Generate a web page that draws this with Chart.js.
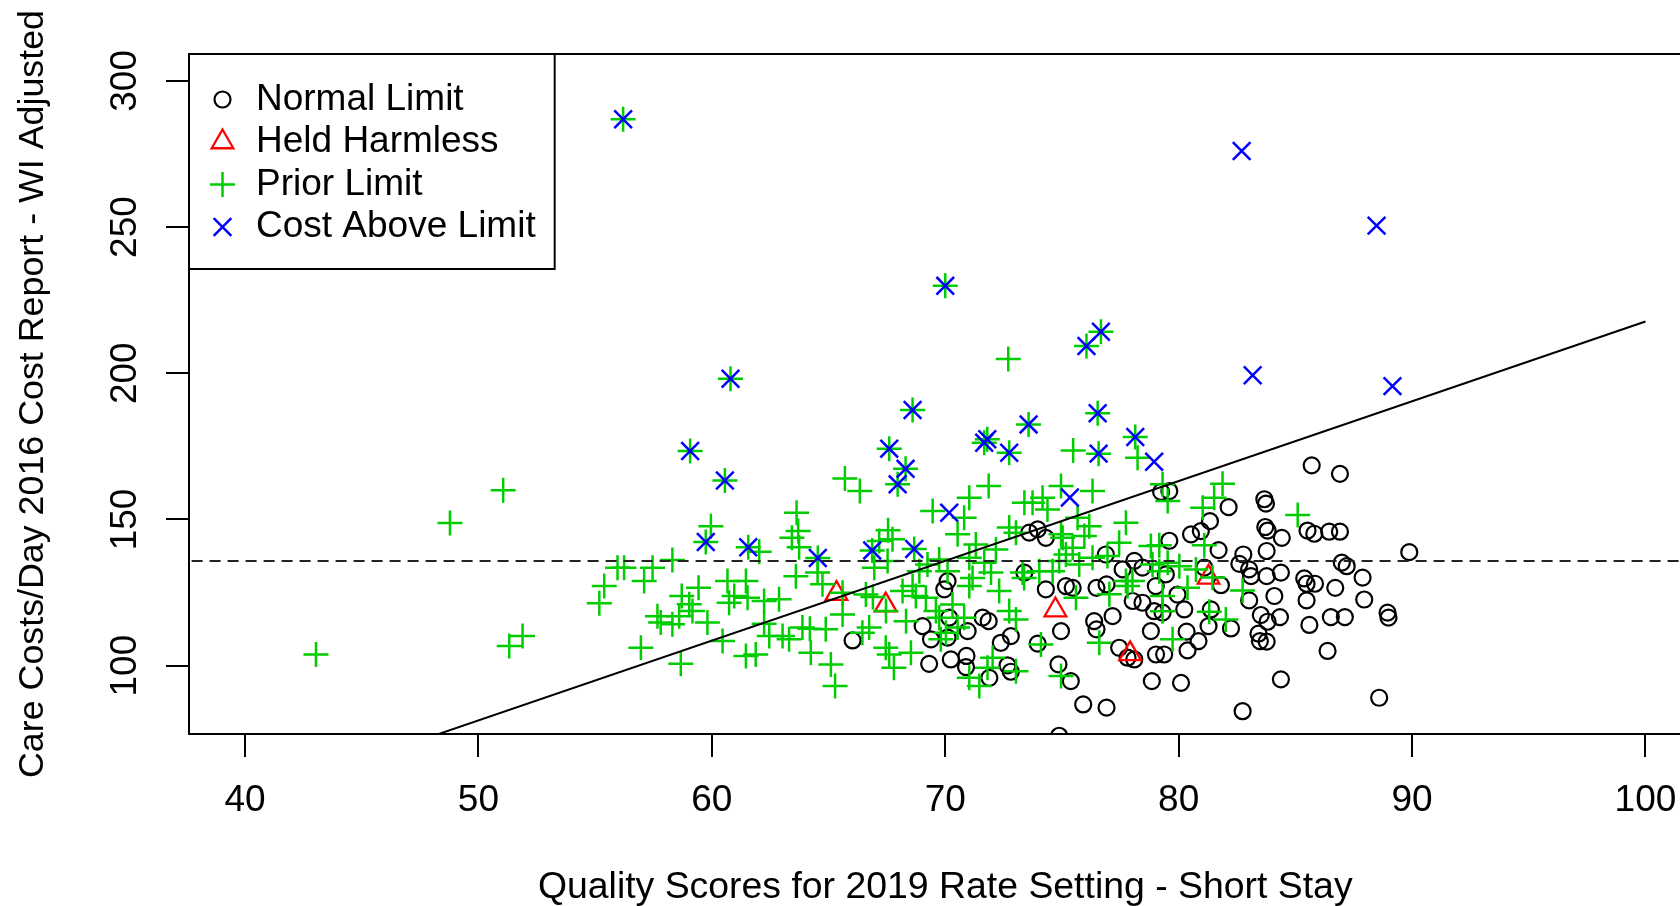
<!DOCTYPE html>
<html>
<head>
<meta charset="utf-8">
<script src="https://cdn.jsdelivr.net/npm/chart.js@4.4.1/dist/chart.umd.min.js"></script>
<style>
  html, body { margin: 0; padding: 0; background: #fff; overflow: hidden; }
  #wrap { position: relative; width: 1720px; height: 906px; }
</style>
</head>
<body>
<div id="wrap"><canvas id="scatter"></canvas></div>
<script>
// axis ticks and labels
const xTicks = [40, 50, 60, 70, 80, 90, 100];
const yTicks = [100, 150, 200, 250, 300];
const xTitle = 'Quality Scores for 2019 Rate Setting - Short Stay';
const yTitle = 'Care Costs/Day 2016 Cost Report - WI Adjusted';
const seriesNames = ['Normal Limit', 'Held Harmless', 'Prior Limit', 'Cost Above Limit'];

// reference lines
const limitValue = 135.8;
const fitIntercept = -55.2;
const fitSlope = 2.729;
const fitRange = [40, 100];

// [quality score, cost per day]
const normalLimit = [
  [66.03, 108.6], [70.1, 128.9], [69.96, 126.1], [70.17, 116.4], [69.03, 113.5], [69.39, 109.0],
  [70.1, 109.6], [70.96, 111.8], [71.6, 116.4], [71.86, 115.2], [72.38, 107.8], [72.81, 110.1],
  [69.31, 100.6], [70.24, 102.1], [70.91, 103.3], [70.89, 99.5], [71.89, 95.8], [72.67, 100.1],
  [72.81, 97.9], [73.39, 131.8], [73.6, 145.5], [74.31, 143.7], [73.96, 146.6], [76.88, 138.0],
  [74.31, 126.1], [75.17, 127.2], [75.46, 126.6], [76.48, 126.6], [76.91, 127.8], [77.6, 132.9],
  [78.1, 135.8], [78.45, 133.5], [79.02, 127.2], [78.03, 122.1], [78.45, 121.5], [78.95, 118.6],
  [79.31, 118.1], [79.25, 159.4], [79.6, 159.7], [79.6, 142.7], [77.17, 116.9], [76.38, 115.2],
  [76.48, 112.4], [74.96, 111.8], [78.81, 111.8], [73.96, 107.5], [77.45, 106.1], [77.81, 102.7],
  [78.1, 102.1], [79.03, 103.8], [79.38, 103.8], [74.85, 100.4], [75.38, 94.7], [78.85, 94.7],
  [75.91, 86.7], [76.91, 85.6], [74.88, 76.0], [82.14, 154.2], [81.34, 149.4], [80.95, 146.0],
  [80.53, 144.9], [81.71, 139.5], [83.67, 156.9], [83.74, 155.4], [83.71, 147.4], [83.81, 146.2],
  [84.42, 143.7], [85.52, 146.2], [85.81, 145.1], [86.45, 145.8], [86.91, 145.8], [85.7, 168.5],
  [86.91, 165.6], [89.88, 138.8], [83.77, 139.2], [82.77, 138.0], [82.6, 134.8], [83.02, 132.9],
  [83.1, 130.6], [83.77, 130.6], [84.38, 131.8], [86.99, 135.2], [87.2, 134.0], [87.88, 130.1],
  [85.38, 129.8], [85.48, 128.0], [85.84, 128.0], [86.71, 126.6], [87.95, 122.6], [85.48, 122.3],
  [84.1, 123.8], [83.02, 122.3], [81.81, 127.5], [81.1, 133.5], [79.45, 131.2], [79.95, 124.3],
  [80.24, 119.2], [81.38, 119.2], [81.28, 113.5], [82.24, 112.7], [80.34, 111.6], [80.85, 108.4],
  [80.38, 105.2], [80.1, 94.1], [83.52, 117.3], [83.81, 115.0], [84.34, 116.6], [83.42, 110.9],
  [83.48, 108.4], [83.77, 108.2], [84.38, 95.3], [85.6, 113.9], [86.52, 116.6], [87.12, 116.6],
  [86.38, 105.0], [88.95, 118.1], [88.99, 116.4], [88.59, 89.0], [82.74, 84.4]
];

const heldHarmless = [
  [65.34, 124.6], [67.45, 120.7], [74.72, 119.0], [77.92, 104.0], [81.28, 130.2]
];

// facilities that are both prior limit and cost above limit
const priorAndAbove = [
  [56.2, 286.9], [70.0, 229.9], [60.8, 198.1], [68.6, 187.4], [59.07, 173.4], [67.6, 174.2],
  [68.3, 167.3], [71.8, 177.4], [71.67, 176.2], [72.74, 172.8], [60.56, 163.3], [76.67, 214.2],
  [76.05, 209.3], [76.53, 186.3], [73.57, 182.5], [76.57, 172.5], [78.14, 178.2], [67.96, 162.0],
  [59.74, 142.3], [61.56, 140.5], [64.54, 136.8], [66.87, 139.4], [68.67, 139.9]
];

const priorOnly = [
  [43.04, 103.8], [48.78, 148.8], [51.06, 160.0], [51.32, 106.7], [51.89, 110.1], [55.39, 127.2],
  [55.18, 121.3], [55.96, 133.5], [65.7, 164.0], [66.34, 159.7], [63.63, 152.3], [63.7, 146.0],
  [63.43, 143.7], [63.74, 140.5], [59.96, 147.7], [62.03, 138.9], [58.31, 136.1], [57.46, 133.5],
  [57.1, 128.9], [56.24, 133.5], [64.53, 131.8], [63.6, 130.6], [64.74, 127.8], [65.6, 124.9],
  [66.6, 124.3], [66.9, 123.5], [59.43, 126.6], [58.71, 123.8], [59.03, 121.0], [57.67, 116.9],
  [57.81, 114.7], [58.31, 114.1], [58.6, 116.9], [59.17, 118.7], [59.81, 114.7], [60.67, 128.9],
  [60.74, 121.5], [60.96, 123.8], [61.46, 128.9], [61.53, 123.2], [62.24, 122.1], [62.88, 122.7],
  [62.24, 114.3], [62.46, 110.1], [63.03, 110.1], [63.31, 109.0], [63.88, 113.0], [64.2, 112.6],
  [64.88, 112.4], [64.24, 104.4], [56.96, 106.1], [60.46, 108.4], [58.67, 100.6], [61.46, 103.3],
  [61.88, 103.8], [65.1, 100.4], [65.28, 93.0], [65.6, 117.5], [66.45, 111.2], [67.45, 106.1],
  [67.55, 146.3], [72.7, 204.9], [75.48, 173.6], [78.24, 171.1],
  [71.86, 161.4], [71.03, 157.4], [69.46, 152.9], [70.81, 150.6], [70.53, 144.9], [73.39, 155.7],
  [72.74, 147.2], [73.03, 145.4], [67.74, 143.2], [67.17, 142.6], [66.96, 133.5], [67.53, 135.8],
  [71.31, 141.4], [72.17, 139.7], [71.03, 136.9], [69.74, 136.3], [69.24, 134.6], [68.89, 132.3],
  [70.1, 132.3], [71.67, 135.2], [71.17, 130.0], [71.03, 127.2], [71.96, 131.8], [72.31, 125.5],
  [68.6, 127.2], [68.74, 123.8], [69.17, 123.2], [68.17, 125.5], [67.46, 118.7], [68.32, 115.2],
  [69.6, 118.7], [69.74, 116.4], [70.31, 120.9], [70.81, 116.4], [72.74, 118.7], [73.03, 115.8],
  [72.03, 102.7], [71.81, 99.3], [71.03, 95.8], [71.46, 93.0], [67.6, 103.8], [67.8, 99.3],
  [68.53, 104.4], [69.81, 109.0], [70.03, 111.2], [73.03, 98.1], [70.53, 113.0], [66.74, 113.0],
  [73.31, 131.8], [76.31, 159.7], [74.96, 161.4], [74.17, 157.4], [73.74, 155.7], [74.38, 153.4],
  [75.67, 150.6], [76.17, 147.7], [77.74, 148.9], [77.45, 142.0], [74.96, 144.9], [75.46, 140.3],
  [75.96, 144.3], [74.88, 135.8], [74.6, 132.3], [74.03, 132.3], [75.74, 134.6], [76.95, 137.5],
  [73.38, 130.0], [75.6, 123.2], [77.74, 128.9], [77.81, 127.2], [77.03, 124.4], [78.81, 140.9],
  [79.31, 162.0], [79.17, 132.3], [79.31, 118.6], [74.1, 107.2], [76.6, 107.8], [74.96, 96.4],
  [75.03, 143.7], [75.17, 138.0], [76.31, 136.9], [78.02, 128.9],
  [79.53, 156.3], [81.88, 162.2], [81.52, 157.4], [81.03, 154.0], [79.17, 141.2], [81.1, 141.2],
  [85.1, 151.5], [82.74, 125.7], [81.45, 130.1], [80.74, 132.9], [80.03, 134.0], [79.53, 135.2],
  [78.88, 134.6], [80.38, 126.6], [79.31, 123.8], [81.31, 118.4], [82.02, 115.8], [79.74, 109.0]
];

const aboveOnly = [
  [82.7, 276.0], [88.48, 250.5], [83.17, 199.3], [89.16, 195.6], [78.95, 169.7], [70.17, 152.3],
  [75.34, 157.5]
];

const toPoints = arr => arr.map(p => ({ x: p[0], y: p[1] }));

const FONT = '"Liberation Sans", Arial, sans-serif';
Chart.defaults.font.family = FONT;
Chart.defaults.color = '#000';

const markStyles = {
  'Normal Limit': { pointStyle: 'circle', color: '#000000', radius: 8, width: 2.2 },
  'Held Harmless': { pointStyle: 'triangle', color: '#FF0000', radius: 12.5, width: 2.3 },
  'Prior Limit': { pointStyle: 'cross', color: '#00CD00', radius: 12.5, width: 2.5 },
  'Cost Above Limit': { pointStyle: 'crossRot', color: '#0000FF', radius: 12.5, width: 2.5 }
};

function markDataset(name, data) {
  const s = markStyles[name];
  return {
    label: name,
    data: toPoints(data),
    pointStyle: s.pointStyle,
    pointRadius: s.radius,
    pointBorderColor: s.color,
    pointBackgroundColor: 'rgba(0,0,0,0)',
    pointBorderWidth: s.width,
    showLine: false,
    clip: 0
  };
}

// box around the plot region
const framePlugin = {
  id: 'frame',
  afterDatasetsDraw(chart) {
    const a = chart.chartArea;
    const ctx = chart.ctx;
    ctx.save();
    ctx.strokeStyle = '#000';
    ctx.lineWidth = 2;
    ctx.strokeRect(a.left, a.top, a.right - a.left, a.bottom - a.top);
    ctx.restore();
  }
};

// R style boxed legend in the top left corner
const boxLegend = {
  id: 'boxLegend',
  afterDatasetsDraw(chart) {
    const a = chart.chartArea;
    const ctx = chart.ctx;
    ctx.save();
    ctx.font = '37px ' + FONT;
    const maxW = Math.max(...seriesNames.map(n => ctx.measureText(n).width));
    const left = a.left, top = a.top;
    const symX = left + 33.5, textX = left + 67;
    const w = textX + maxW + 19 - left, h = 215;
    ctx.fillStyle = '#fff';
    ctx.fillRect(left, top, w, h);
    ctx.strokeStyle = '#000';
    ctx.lineWidth = 2;
    ctx.strokeRect(left, top, w, h);
    seriesNames.forEach((name, i) => {
      const y = top + 45.5 + i * 42.5;
      const s = markStyles[name];
      ctx.strokeStyle = s.color;
      ctx.fillStyle = 'rgba(0,0,0,0)';
      ctx.lineWidth = s.width;
      Chart.helpers.drawPoint(ctx, { pointStyle: s.pointStyle, radius: s.radius, rotation: 0, borderWidth: s.width }, symX, y);
      ctx.fillStyle = '#000';
      ctx.textAlign = 'left';
      ctx.textBaseline = 'middle';
      ctx.fillText(name, textX, y);
    });
    ctx.restore();
  }
};

const ctx = document.getElementById('scatter');
new Chart(ctx, {
  type: 'scatter',
  data: {
    datasets: [
      {
        label: 'fit',
        data: fitRange.map(x => ({ x: x, y: fitIntercept + fitSlope * x })),
        showLine: true,
        borderColor: '#000',
        borderWidth: 2,
        pointRadius: 0,
        clip: 0
      },
      {
        label: 'limit',
        data: [{ x: 30, y: limitValue }, { x: 110, y: limitValue }],
        showLine: true,
        borderColor: '#222',
        borderWidth: 2,
        borderDash: [11, 7],
        pointRadius: 0,
        clip: 0
      },
      markDataset('Cost Above Limit', aboveOnly.concat(priorAndAbove)),
      markDataset('Prior Limit', priorOnly.concat(priorAndAbove)),
      markDataset('Held Harmless', heldHarmless),
      markDataset('Normal Limit', normalLimit)
    ]
  },
  options: {
    responsive: true,
    maintainAspectRatio: false,
    animation: false,
    events: [],
    layout: { padding: { left: 0, top: 54, right: 18.5, bottom: 0 } },
    plugins: {
      legend: { display: false },
      tooltip: { enabled: false }
    },
    scales: {
      x: {
        type: 'linear',
        position: 'bottom',
        min: 37.6,
        max: 102.4,
        afterBuildTicks: s => { s.ticks = xTicks.map(v => ({ value: v })); },
        afterFit: s => { s.height = 172; },
        grid: { display: true, drawOnChartArea: false, drawTicks: true, tickLength: 23, color: '#000', tickColor: '#000', lineWidth: 2 },
        border: { display: true, color: '#000', width: 2 },
        ticks: { font: { size: 37 }, color: '#000', padding: 22, maxRotation: 0, minRotation: 0, autoSkip: false },
        title: { display: true, text: xTitle, font: { size: 37.4, lineHeight: 1 }, color: '#000', padding: { top: 0, bottom: 0 } }
      },
      y: {
        type: 'linear',
        position: 'left',
        min: 76.6,
        max: 309.2,
        afterBuildTicks: s => { s.ticks = yTicks.map(v => ({ value: v })); },
        afterFit: s => { s.width = 189; },
        grid: { display: true, drawOnChartArea: false, drawTicks: true, tickLength: 23, color: '#000', tickColor: '#000', lineWidth: 2 },
        border: { display: true, color: '#000', width: 2 },
        ticks: { font: { size: 37 }, color: '#000', padding: 9, minRotation: 90, maxRotation: 90, crossAlign: 'center', autoSkip: false },
        title: { display: true, text: yTitle, font: { size: 35.8, lineHeight: 1 }, color: '#000', padding: { top: 15, bottom: 0 } }
      }
    }
  },
  plugins: [framePlugin, boxLegend]
});
</script>
</body>
</html>
